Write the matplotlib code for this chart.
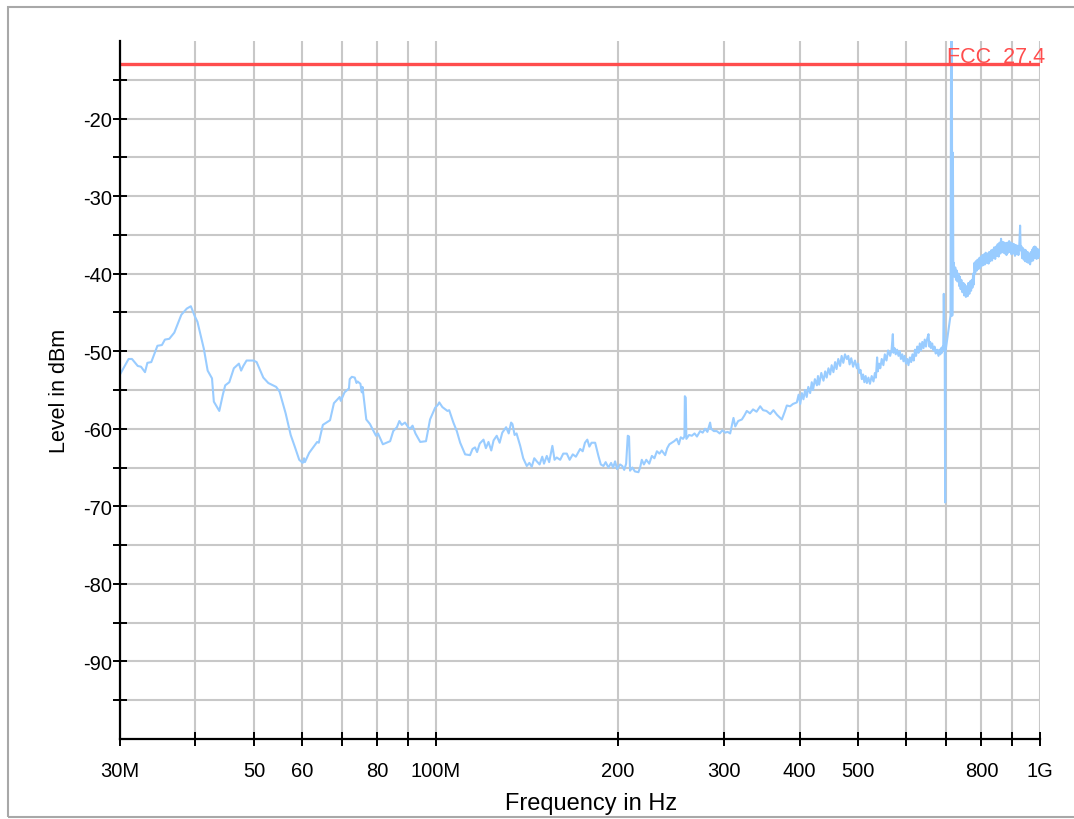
import numpy as np
import matplotlib.pyplot as plt
from matplotlib.patches import Rectangle
from matplotlib.ticker import NullLocator

plt.rcParams['font.family'] = ['Liberation Sans', 'DejaVu Sans']

freq_low = [
    30.0, 31.0, 31.4, 32.1, 32.5, 33.0, 33.3, 33.8, 34.6, 35.2, 35.6, 36.2, 36.9, 37.9, 38.7, 39.3,
    39.9, 40.3, 41.3, 41.9, 42.6, 42.9, 43.8, 44.4, 44.8, 45.5, 46.3, 47.2, 47.6, 48.0, 48.6, 49.9,
    50.5, 51.8, 52.8, 54.4, 55.1, 56.4, 57.5, 58.4, 59.4, 60.2, 60.5, 60.7, 61.7, 63.6, 64.0, 65.0,
    66.8, 67.8, 69.3, 69.6, 70.6, 71.8, 72.0, 72.6, 73.4, 73.9, 74.2, 75.0, 75.4, 75.6, 76.7, 77.8,
    78.5, 79.6, 80.2, 81.7, 84.0, 85.0, 86.2, 87.0, 87.8, 88.9, 90.0, 90.6, 91.5, 92.5, 94.2, 96.3,
    97.8, 99.7, 100.8, 101.3, 102.5, 104.5, 105.2, 106.9, 108.3, 109.7, 111.8, 113.9, 115.0, 116.1,
    117.0, 118.2, 119.9, 121.0, 122.2, 123.5, 124.6, 126.1, 127.5, 128.8, 130.7, 132.0, 133.2, 133.9,
    135.0, 136.0, 137.9, 139.5, 141.4, 142.8, 144.1, 145.5, 146.9, 148.5, 150.0, 151.0, 152.6, 154.0,
    155.9, 157.2, 158.5, 160.6, 162.5, 164.7, 166.5, 168.5, 170.5, 173.3, 175.0, 176.5, 178.1, 179.5,
    181.0, 183.5, 185.8, 187.5, 189.4, 191.0, 193.0, 195.0, 196.5, 198.0, 199.5, 201.8, 203.5, 205.0,
    206.5, 207.8, 208.8, 209.6, 211.5, 213.5, 216.4, 217.8, 219.2, 221.0, 223.0, 225.5, 227.8, 230.0,
    232.2, 234.5, 236.5, 239.6, 241.5, 243.5, 245.8, 248.0, 250.5, 252.5, 254.3, 256.5, 257.9, 258.3,
    259.2, 259.8, 262.5, 265.3, 268.0, 270.5, 273.8, 276.5, 279.0, 281.5, 284.4, 285.5, 288.5, 291.7,
    295.0, 298.0, 301.2, 304.0, 307.0, 310.9, 313.0, 316.5, 321.0, 324.0, 327.1, 331.0, 335.0, 339.5,
    344.2, 348.0, 352.5, 357.6, 362.0, 367.0, 373.8, 378.0, 381.0, 385.8, 390.0,
]
level_low = [
    -53.0, -51.0, -51.0, -51.9, -52.0, -52.7, -51.5, -51.4, -49.3, -49.2, -48.5, -48.4, -47.6, -45.3, -44.5, -44.2,
    -45.5, -46.2, -49.7, -52.5, -53.5, -56.5, -57.7, -55.6, -54.4, -54.0, -52.2, -51.6, -52.5, -51.9, -51.2, -51.2,
    -51.4, -53.4, -54.1, -54.6, -55.2, -58.0, -60.8, -62.3, -64.0, -64.4, -63.8, -64.3, -63.1, -61.7, -61.8, -59.5,
    -58.9, -56.7, -55.9, -56.4, -55.3, -54.8, -53.6, -53.3, -53.4, -54.1, -53.9, -54.2, -55.3, -54.6, -58.8, -59.4,
    -60.0, -60.9, -60.6, -62.0, -61.6, -60.3, -59.8, -59.0, -59.5, -59.2, -59.8, -60.0, -59.6, -60.6, -61.7, -61.6,
    -58.8, -57.3, -56.9, -56.6, -57.2, -57.7, -57.6, -59.2, -60.3, -61.8, -63.3, -63.4, -62.6, -62.4,
    -63.0, -61.9, -61.4, -62.5, -61.7, -62.8, -61.5, -60.9, -61.8, -60.5, -59.8, -60.6, -59.2, -59.4,
    -60.8, -60.6, -62.2, -63.8, -64.8, -64.4, -64.9, -63.8, -64.2, -64.6, -63.6, -64.5, -63.5, -64.3,
    -62.2, -64.0, -63.7, -64.0, -63.2, -63.2, -64.0, -63.3, -63.6, -62.6, -62.9, -61.8, -61.4, -62.3,
    -61.8, -61.8, -63.5, -64.6, -64.8, -64.3, -65.0, -64.4, -65.0, -64.2, -65.2, -64.6, -64.8, -65.3,
    -64.5, -60.9, -61.0, -65.4, -65.0, -65.5, -65.6, -65.0, -64.0, -64.6, -64.0, -64.5, -63.5, -63.8,
    -62.9, -63.2, -62.8, -63.4, -62.5, -62.0, -61.8, -61.6, -61.3, -62.0, -61.1, -61.3, -61.0, -55.8,
    -56.0, -61.3, -60.8, -60.9, -60.6, -61.0, -60.3, -60.5, -60.0, -60.4, -59.2, -60.0, -60.3, -60.3,
    -60.6, -60.2, -60.5, -60.4, -60.6, -58.6, -59.7, -59.0, -58.8, -58.3, -57.7, -58.0, -57.5, -57.8,
    -57.1, -57.6, -57.7, -58.1, -57.6, -58.2, -58.8, -57.8, -57.0, -57.1, -56.8,
]

freq_mid = [
    395.8, 398.5, 401.0, 403.5, 405.9, 408.5, 411.0, 413.5, 416.4, 419.0, 421.0, 424.0, 427.3, 429.0,
    431.0, 434.5, 438.1, 441.0, 443.5, 446.5, 449.4, 452.0, 455.0, 458.0, 460.5, 463.5, 466.8, 469.5,
    472.5, 475.5, 478.9, 481.5, 484.0, 487.0, 490.5, 494.0, 497.6, 500.0, 502.0, 504.5, 507.1, 509.5,
    512.0, 514.5, 516.9, 520.0, 523.0, 526.5, 530.1, 533.0, 535.0, 537.5, 538.8, 541.5, 544.0, 547.0,
    550.5, 553.5, 557.0, 560.5, 564.9, 568.0, 570.7, 572.0, 574.5, 577.0, 580.0, 583.1, 586.0, 588.5,
    591.5, 594.3, 597.0, 600.0, 603.0, 605.7, 609.0, 612.0, 615.0, 618.0, 621.0, 623.5, 626.5, 629.4,
    632.5, 635.5, 638.5, 641.5, 644.5, 647.5, 650.5, 653.8, 656.0, 658.0, 660.0, 663.0, 666.3, 669.0,
    672.0, 675.5, 679.2, 681.5, 684.0, 686.0, 688.0, 690.0, 691.5,
]
level_mid = [
    -56.6, -55.6, -56.8, -55.4, -56.2, -55.0, -55.9, -54.6, -55.4, -54.0, -55.0, -53.6, -54.4, -53.2,
    -54.3, -52.8, -53.8, -52.6, -53.4, -52.2, -53.0, -51.8, -52.7, -51.4, -52.3, -51.0, -51.9, -50.6,
    -51.5, -50.4, -51.0, -50.6, -51.7, -50.9, -52.0, -51.2, -52.2, -51.6, -52.8, -52.4, -53.6, -53.0,
    -54.0, -53.2, -54.1, -53.4, -54.2, -53.2, -53.9, -52.8, -53.4, -50.8, -52.6, -51.6, -52.2, -51.0,
    -51.8, -50.4, -51.2, -49.9, -50.6, -49.8, -47.8, -50.2, -49.6, -50.4, -49.8, -50.6, -50.0, -51.0,
    -50.4, -51.3, -50.6, -51.6, -51.0, -51.8, -50.8, -51.4, -50.4, -51.2, -49.8, -50.6, -49.4, -50.2,
    -49.0, -49.9, -48.8, -49.6, -48.5, -49.4, -48.4, -47.8, -49.4, -48.8, -49.6, -49.0, -49.9, -49.4,
    -50.3, -49.8, -50.6, -49.8, -50.4, -49.6, -50.2, -49.4, -49.8,
]

freq_high = [
    693.0, 694.2, 695.5, 696.6, 697.6, 711.0, 712.6, 713.8, 714.6, 715.8, 717.5, 718.6,
    720.0, 722.0, 724.0, 726.0, 728.0, 730.0, 733.0, 735.0, 737.0, 739.0, 741.0, 744.0, 747.0, 749.0,
    751.0, 754.0, 757.0, 759.0, 761.0, 764.0, 766.0, 769.0, 771.0, 773.0, 775.0, 777.0, 779.0, 781.0,
    783.0, 786.0, 788.0, 791.0, 793.0, 796.0, 798.0, 801.0, 803.0, 806.0, 808.0, 811.0, 813.0, 816.0,
    819.0, 822.0, 824.0, 827.0, 830.0, 833.0, 835.0, 838.0, 840.0, 843.0, 846.0, 849.0, 851.0, 854.0,
    857.0, 860.0, 862.0, 865.0, 868.0, 870.0, 873.0, 875.0, 878.0, 880.0, 883.0, 886.0, 889.0, 892.0,
    894.0, 897.0, 900.0, 903.0, 906.0, 909.0, 912.0, 915.0, 918.0, 921.0, 924.0, 927.0, 929.0, 932.0,
    934.0, 937.0, 940.0, 943.0, 945.0, 948.0, 951.0, 954.0, 956.0, 959.0, 963.0, 966.0, 968.0, 971.0,
    974.0, 976.0, 978.0, 980.0, 982.0, 985.0, 987.0, 990.0, 993.0, 996.0, 1000.0,
]
level_high = [
    -42.6, -46.8, -49.8, -69.5, -50.0, -45.4, -8.0, -45.4, -8.0, -45.4, -24.4, -39.0,
    -38.6, -40.4, -39.2, -40.8, -39.6, -41.0, -40.0, -41.6, -40.4, -42.0, -40.8, -42.4, -41.2, -42.8,
    -41.4, -43.0, -41.6, -42.9, -41.2, -42.6, -41.0, -42.2, -40.8, -41.8, -40.0, -41.4, -38.6, -40.0,
    -38.4, -39.6, -38.2, -39.4, -38.0, -39.3, -37.8, -39.0, -37.6, -38.9, -37.5, -38.8, -37.3, -38.6,
    -37.4, -38.7, -37.2, -38.4, -37.0, -38.3, -36.9, -38.0, -36.6, -38.1, -36.5, -37.7, -36.2, -37.8,
    -36.0, -37.4, -35.5, -37.2, -35.9, -37.3, -36.0, -37.4, -36.1, -37.6, -36.0, -37.3, -35.8, -37.2,
    -36.0, -37.5, -36.1, -37.4, -36.2, -37.7, -36.3, -37.5, -36.4, -37.6, -36.4, -33.8, -37.0, -36.5,
    -38.0, -36.7, -38.2, -36.9, -38.4, -37.0, -38.5, -37.2, -38.6, -37.4, -38.8, -37.2, -38.4, -36.9,
    -38.3, -36.6, -38.0, -36.5, -37.9, -36.6, -38.1, -36.8, -38.0, -36.9, -37.7,
]

limit_level = -13.0
limit_label = "FCC  27.4"

x_ticks = [30, 40, 50, 60, 70, 80, 90, 100, 200, 300, 400, 500, 600, 700, 800, 900, 1000]
x_tick_labels = ["30M", "", "50", "60", "", "80", "", "100M", "200", "300", "400", "500", "", "", "800", "", "1G"]
y_ticks = list(range(-95, -10, 5))
y_tick_labels = [str(v) if v % 10 == 0 else "" for v in y_ticks]

freq = freq_low + freq_mid + freq_high
level = level_low + level_mid + level_high

fig = plt.figure(figsize=(10.74, 8.2), dpi=100)
ax = fig.add_axes([120 / 1074, 80 / 820, 920 / 1074, 698 / 820])

ax.plot(freq, level, color='#99ccff', lw=1.5, zorder=3)
ax.axhline(limit_level, color='#ff4d4d', lw=2.4, zorder=4)

ax.set_xscale('log')
ax.set_xlim(30, 1000)
ax.set_ylim(-100, -10)
ax.xaxis.set_minor_locator(NullLocator())
ax.set_xticks(x_ticks, x_tick_labels)
ax.set_yticks(y_ticks, y_tick_labels)

ax.grid(True, color='#c8c8c8', lw=1.5, zorder=1)
ax.set_axisbelow(True)
for s in ['top', 'right']:
    ax.spines[s].set_visible(False)
for s in ['left', 'bottom']:
    ax.spines[s].set_linewidth(1.6)
    ax.spines[s].set_zorder(5)

ax.tick_params(axis='x', direction='inout', length=10, width=1.4, labelsize=14.5, pad=11)
ax.tick_params(axis='y', direction='inout', length=10, width=1.4, labelsize=14.5, pad=1)

fig.text(1045 / 1074, 1 - 63 / 820, limit_label, color='#ff4d4d', fontsize=15.5,
         ha='right', va='baseline')
fig.text(591 / 1074, 1 - 804 / 820, "Frequency in Hz", fontsize=17, ha='center', va='center')
fig.text(60 / 1074, 1 - 391 / 820, "Level in dBm", fontsize=15.5, ha='center', va='center',
         rotation=90)

fig.patches.append(Rectangle((8 / 1074, 2 / 820), 1.0, 810 / 820, transform=fig.transFigure,
                             fill=False, edgecolor='#a8a8a8', lw=1.5))

fig.savefig("out.png", dpi=100)
